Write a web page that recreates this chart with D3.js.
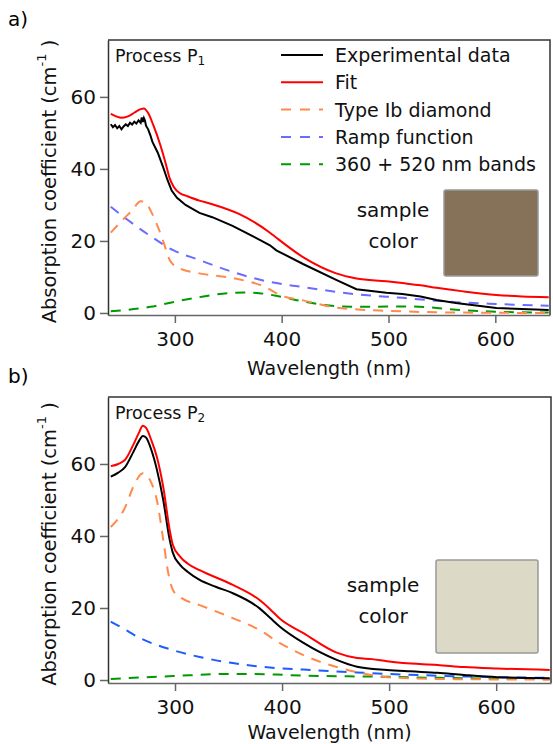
<!DOCTYPE html>
<html>
<head>
<meta charset="utf-8">
<script src="https://cdn.jsdelivr.net/npm/d3@7"></script>
<style>
  body { margin: 0; background: #fff; }
  svg { display: block; font-family: "DejaVu Sans", sans-serif; }
</style>
</head>
<body>
<svg id="canvas"></svg>
<script>
// Declare data (wavelength nm, absorption cm^-1)
let xTicks = [300, 400, 500, 600];
let yTicks = [0, 20, 40, 60];

let legendLabels = ["Experimental data", "Fit", "Type Ib diamond", "Ramp function", "360 + 520 nm bands"];

// panel a) process P1
let expA = [[240,52.4],[242,51.6],[244,52.2],[246,51.3],[248,51.9],[250,51.0],[252,51.8],[254,52.4],[256,51.9],[258,52.8],[260,52.3],[262,53.1],[264,52.6],[266,53.5],[268,52.8],[269,54.3],[270,53.0],[271,54.1],[272,53.4],[273,52.0],[275,51.0],[277,49.4],[279,47.5],[284,44.5],[289,40.5],[293,37],[297,34],[302,32],[310,30],[323,27.8],[335,26.6],[354,24.2],[379,20.4],[389,18.8],[395,17.4],[420,13.6],[451,9.2],[470,6.6],[498,5.6],[513,5.3],[530,4.6],[545,3.6],[563,2.8],[601,1.4],[650,0.8]];
let fitA = [[240,55.3],[245,54.6],[250,54.2],[256,54.6],[262,55.6],[268,56.6],[271,56.8],[275,55.5],[280,52],[286,47],[291,42],[295,37.5],[299,35],[305,33.2],[311,32.5],[323,31.2],[335,30.2],[360,27.5],[389,22.3],[395,20.9],[420,15.5],[451,11],[470,9.6],[498,8.8],[513,8.3],[530,7.7],[545,7],[570,6],[601,5],[625,4.6],[650,4.4]];
let typeIbA = [[240,22.3],[250,25.5],[260,28.5],[268,31.0],[272,30.8],[278,28],[284,24],[289,20],[295,14.8],[300,13],[305,12.3],[323,11],[354,9.7],[386,7],[398,5],[420,3.5],[451,1.5],[475,0.9],[498,0.6],[545,0.2],[600,0.05],[650,0]];
let rampA = [[240,29.5],[256,25.8],[279,21],[298,17.5],[323,14.7],[354,11.4],[386,8.8],[420,7.2],[470,5.2],[513,4.2],[563,3.0],[601,2.5],[650,2.0]];
let bandsA = [[240,0.5],[277,1.7],[298,3],[323,4.4],[354,5.6],[365,5.7],[379,5.5],[398,4.6],[420,3.2],[451,1.9],[480,1.7],[498,1.8],[520,1.8],[545,1.4],[563,0.9],[601,0.35],[650,0.1]];

// panel b) process P2
let expB = [[240,56.5],[247,57.6],[253.5,59.2],[261,63.3],[266,66.2],[270,67.8],[273,67.3],[278,63.8],[283,58.5],[289,50],[295,39],[298,35.3],[304.7,32],[312,30],[323,27.8],[338,25.9],[354,24.1],[379,19.9],[389,17.2],[398,14.8],[420,10.3],[451,5.6],[470,3.7],[498,2.8],[520,2.4],[545,2.0],[570,1.4],[601,0.8],[650,0.5]];
let fitB = [[240,59.4],[247,60],[253.5,61.2],[261,65.3],[266,68.5],[270,70.6],[273,70.0],[278,66.5],[283,62.0],[289,53.6],[295,41.7],[298,37.5],[304.7,34.3],[312,32.3],[323,30.5],[354,26.4],[379,22.2],[389,19.6],[398,17],[420,13],[451,7.6],[470,6.1],[484,5.8],[498,5.2],[513,4.7],[545,4.2],[570,3.6],[601,3.2],[650,2.8]];
let typeIbB = [[240,42.5],[253.5,48],[261,53.6],[270,57.4],[278,54.7],[283,50],[289,39],[293.5,30],[298,25],[306,22.8],[323,20.8],[354,17.2],[379,13.9],[395,10.8],[420,6.9],[451,3.6],[470,2.2],[498,0.8],[545,0.3],[650,0.1]];
let rampB = [[240,16.2],[251,14.4],[267,11.7],[298,8.3],[323,6.4],[354,4.7],[395,3.3],[420,2.9],[470,2.1],[498,1.7],[545,1.2],[601,0.8],[650,0.6]];
let bandsB = [[240,0.3],[298,1.1],[354,1.7],[395,1.5],[420,1.2],[498,0.9],[545,0.6],[650,0.3]];

let width = 553;
let height = 744;

let canvas = d3.select("#canvas").attr("width", width).attr("height", height);

let line = (xs, ys, curve) => d3.line().x((d) => xs(d[0])).y((d) => ys(d[1])).curve(curve);

let drawPanel = (p) => {
  let xScale = d3.scaleLinear().domain([237.4, 651.2]).range([p.left, p.right]);
  let yScale = d3.scaleLinear().domain(p.yDomain).range([p.bottom, p.top]);

  let g = canvas.append("g");

  g.append("clipPath").attr("id", "clip" + p.id)
    .append("rect")
    .attr("x", p.left).attr("y", p.top)
    .attr("width", p.right - p.left).attr("height", p.bottom - p.top);

  // frame (top + right)
  g.append("path")
    .attr("d", `M${p.left},${p.top}H${p.right}V${p.bottom}`)
    .attr("fill", "none").attr("stroke", "#333").attr("stroke-width", 1.5);

  let xAxis = d3.axisBottom(xScale).tickValues(xTicks).tickSize(8).tickPadding(9).tickSizeOuter(0);
  let yAxis = d3.axisLeft(yScale).tickValues(yTicks).tickSize(8).tickPadding(4).tickSizeOuter(0);

  let gx = g.append("g").attr("transform", "translate(0," + p.bottom + ")").call(xAxis);
  let gy = g.append("g").attr("transform", "translate(" + p.left + ",0)").call(yAxis);
  [gx, gy].forEach((ax) => {
    ax.selectAll("path,line").attr("stroke", "#666").attr("stroke-width", 1.5);
    ax.selectAll("text").attr("fill", "#111").style("font-size", "20px").style("font-family", "DejaVu Sans");
  });
  gy.select(".domain").attr("stroke", "#333");

  let plot = g.append("g").attr("clip-path", "url(#clip" + p.id + ")");
  p.series.forEach((s) => {
    plot.append("path")
      .datum(s.data)
      .attr("d", line(xScale, yScale, s.curve))
      .attr("fill", "none")
      .attr("stroke", s.color)
      .attr("stroke-width", 2)
      .attr("stroke-dasharray", s.dash || null);
  });

  // panel letter
  g.append("text").attr("x", 8).attr("y", p.top - 14).style("font-size", "20px").text(p.letter);

  // process label
  let pt = g.append("text").attr("x", p.left + 7).attr("y", p.top + 22).style("font-size", "17.5px").attr("fill", "#111");
  pt.append("tspan").text("Process P");
  pt.append("tspan").attr("dy", 3).style("font-size", "12px").text(p.sub);

  // axis titles
  g.append("text")
    .attr("x", (p.left + p.right) / 2).attr("y", Math.min(p.bottom + 60, height - 5))
    .attr("text-anchor", "middle").style("font-size", "19px").attr("fill", "#111")
    .text("Wavelength (nm)");

  let yt = g.append("text")
    .attr("transform", `translate(56,${(p.top + p.bottom) / 2 + 4}) rotate(-90)`)
    .attr("text-anchor", "middle").style("font-size", "19.5px").attr("fill", "#111");
  yt.append("tspan").text("Absorption coefficient (cm");
  yt.append("tspan").attr("dy", -10).style("font-size", "13px").text("-1");
  yt.append("tspan").attr("dy", 10).text(" )");

  // sample colour swatch
  g.append("rect")
    .attr("x", p.box[0]).attr("y", p.box[1]).attr("width", p.box[2]).attr("height", p.box[3])
    .attr("rx", 2).attr("fill", p.boxColor).attr("stroke", "#999").attr("stroke-width", 1.5);
  g.append("text").attr("x", p.boxText[0]).attr("y", p.boxText[1]).attr("text-anchor", "middle")
    .style("font-size", "20px").attr("fill", "#111").text("sample");
  g.append("text").attr("x", p.boxText[0]).attr("y", p.boxText[1] + 31).attr("text-anchor", "middle")
    .style("font-size", "20px").attr("fill", "#111").text("color");

  return g;
};

let orange = "#ff8a4c";
let green = "#009a00";

drawPanel({
  id: "a", letter: "a)", sub: "1",
  left: 108, right: 550, top: 40, bottom: 315,
  yDomain: [-0.56, 75.8],
  box: [444, 190, 94, 86], boxColor: "#857259", boxText: [393, 217],
  series: [
    { data: bandsA, color: green, dash: "10,8", curve: d3.curveMonotoneX },
    { data: rampA, color: "#6b6bff", dash: "10,8", curve: d3.curveMonotoneX },
    { data: typeIbA, color: orange, dash: "10,8", curve: d3.curveMonotoneX },
    { data: expA, color: "#000", curve: d3.curveLinear },
    { data: fitA, color: "#ff0000", curve: d3.curveMonotoneX },
  ],
});

drawPanel({
  id: "b", letter: "b)", sub: "2",
  left: 108, right: 551, top: 397, bottom: 683,
  yDomain: [-0.83, 78.6],
  box: [436, 560, 102, 93], boxColor: "#dcd9c7", boxText: [383, 592],
  series: [
    { data: bandsB, color: green, dash: "10,8", curve: d3.curveMonotoneX },
    { data: rampB, color: "#1f5cff", dash: "10,8", curve: d3.curveMonotoneX },
    { data: typeIbB, color: orange, dash: "10,8", curve: d3.curveMonotoneX },
    { data: expB, color: "#000", curve: d3.curveMonotoneX },
    { data: fitB, color: "#ff0000", curve: d3.curveMonotoneX },
  ],
});

// legend in panel a
let legendColors = ["#000", "#ff0000", orange, "#6b6bff", green];
let legend = canvas.append("g");
legendLabels.forEach((label, i) => {
  let y = 55 + i * 27.3;
  legend.append("line")
    .attr("x1", 281).attr("x2", 323).attr("y1", y).attr("y2", y)
    .attr("stroke", legendColors[i]).attr("stroke-width", 2)
    .attr("stroke-dasharray", i > 1 ? "10,9" : null);
  legend.append("text").attr("x", 335).attr("y", y + 7)
    .style("font-size", "19px").attr("fill", "#111").text(label);
});
</script>
</body>
</html>
